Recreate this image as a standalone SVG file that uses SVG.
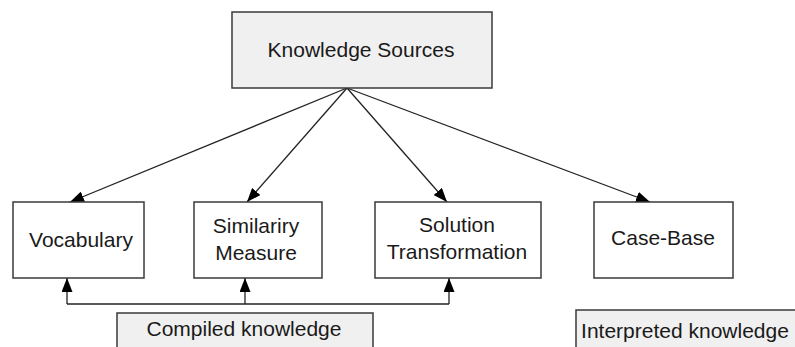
<svg xmlns="http://www.w3.org/2000/svg" width="795" height="347" viewBox="0 0 795 347">
<style>
.box{fill:#ffffff;stroke:#3a3a3a;stroke-width:1.5}
.gbox{fill:#f0f0f0;stroke:#3a3a3a;stroke-width:1.5}
.t{font-family:"Liberation Sans",Arial,sans-serif;font-size:21px;fill:#1a1a1a;text-anchor:middle}
.c{fill:none;stroke:#222;stroke-width:1.3}
</style>
<defs>
<marker id="ah" viewBox="0 0 14 11" refX="14" refY="5.5" markerWidth="14" markerHeight="11" markerUnits="userSpaceOnUse" orient="auto">
<path d="M0,0 L14,5.5 L0,11 Z" fill="#000"/>
</marker>
</defs>
<rect width="795" height="347" fill="#fff"/>
<g id="connectors">
<line class="c" x1="347" y1="88" x2="70" y2="202" marker-end="url(#ah)"/>
<line class="c" x1="347" y1="88" x2="247" y2="202" marker-end="url(#ah)"/>
<line class="c" x1="347" y1="88" x2="447" y2="202" marker-end="url(#ah)"/>
<line class="c" x1="347" y1="88" x2="650" y2="202" marker-end="url(#ah)"/>
<polyline class="c" points="67,304 449,304"/>
<line class="c" x1="67" y1="304" x2="67" y2="278" marker-end="url(#ah)"/>
<line class="c" x1="245" y1="304" x2="245" y2="278" marker-end="url(#ah)"/>
<line class="c" x1="449" y1="304" x2="449" y2="278" marker-end="url(#ah)"/>
</g>
<g id="knowledge-sources">
<rect class="gbox" x="232" y="12" width="260" height="76"/>
<text class="t" x="361" y="57">Knowledge Sources</text>
</g>
<g id="vocabulary">
<rect class="box" x="13" y="202" width="131" height="76"/>
<text class="t" x="81" y="247">Vocabulary</text>
</g>
<g id="similarity">
<rect class="box" x="194" y="202" width="128" height="76"/>
<text class="t" x="256" y="233">Similariry</text>
<text class="t" x="256" y="260">Measure</text>
</g>
<g id="solution">
<rect class="box" x="375" y="202" width="166" height="76"/>
<text class="t" x="457" y="232">Solution</text>
<text class="t" x="457" y="259">Transformation</text>
</g>
<g id="case-base">
<rect class="box" x="594" y="202" width="139" height="76"/>
<text class="t" x="663" y="245">Case-Base</text>
</g>
<g id="compiled">
<rect class="gbox" x="117" y="313" width="256" height="40"/>
<text class="t" x="244" y="336">Compiled knowledge</text>
</g>
<g id="interpreted">
<rect class="gbox" x="576" y="310" width="230" height="44"/>
<text class="t" x="685" y="338">Interpreted knowledge</text>
</g>
</svg>
